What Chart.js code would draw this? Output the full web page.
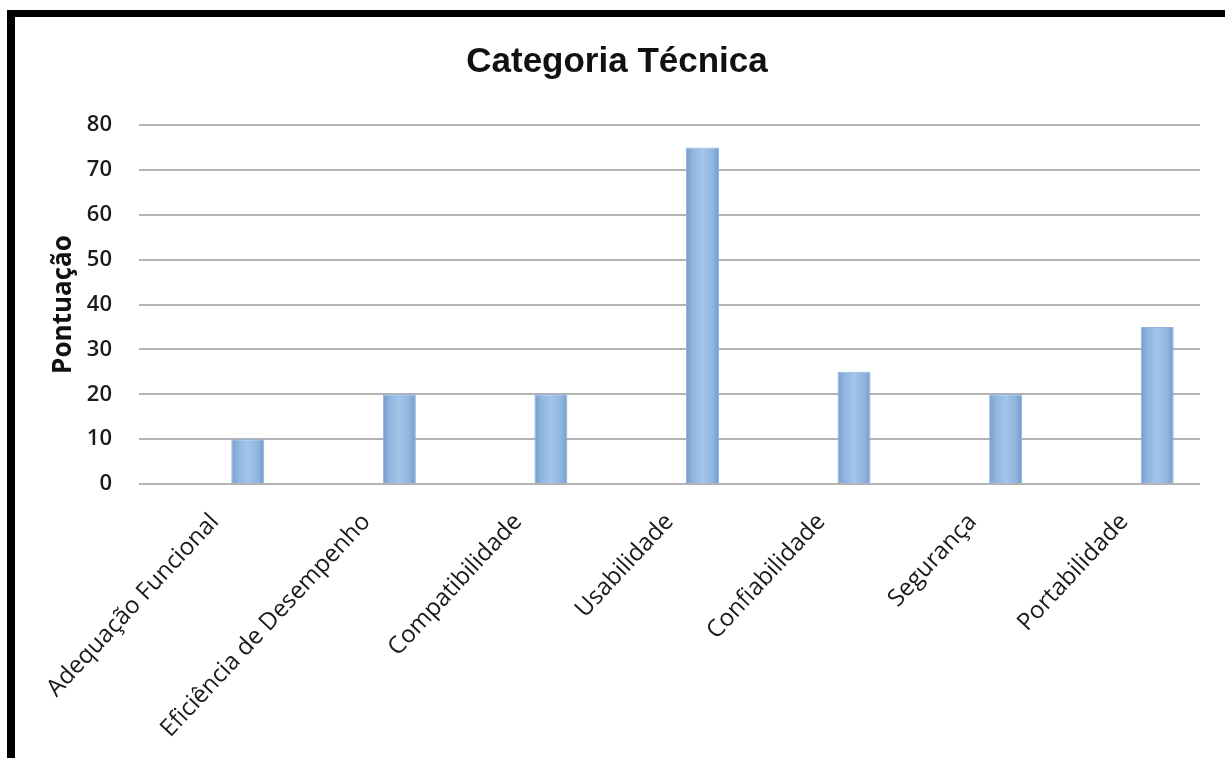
<!DOCTYPE html>
<html lang="pt">
<head>
<meta charset="utf-8">
<title>Categoria Técnica</title>
<script src="https://cdn.jsdelivr.net/npm/chart.js@4.4.1/dist/chart.umd.min.js"></script>
<style>
  html, body { margin: 0; padding: 0; background: #ffffff; }
  body { width: 1225px; height: 758px; overflow: hidden; position: relative; }
  .frame {
    position: absolute; left: 7px; top: 10px;
    width: 1218px; height: 748px;
    border-top: 7px solid #000; border-left: 8px solid #000;
    box-sizing: border-box; background: #fff;
  }
  canvas { display: block; }
</style>
</head>
<body>
<div class="frame">
  <canvas id="chart" width="1210" height="741"></canvas>
</div>
<script>
// Quality categories and their scores
const categories = [
  'Adequação Funcional',
  'Eficiência de Desempenho',
  'Compatibilidade',
  'Usabilidade',
  'Confiabilidade',
  'Segurança',
  'Portabilidade'
];
// Two empty series occupy the first slots of each group, as in the workbook
const serie1 = [null, null, null, null, null, null, null];
const serie2 = [null, null, null, null, null, null, null];
const pontuacao = [10, 20, 20, 75, 25, 20, 35];
const yTicks = [0, 10, 20, 30, 40, 50, 60, 70, 80];

const chartTitle = 'Categoria Técnica';
const yTitle = 'Pontuação';

const barFill = '#95bbe3';
const barEdge = '#8fb4de';

// Horizontal shading across each bar (darker edges, lighter middle)
const barShading = {
  id: 'barShading',
  beforeDatasetsDraw(chart) {
    const ctx = chart.ctx;
    chart.data.datasets.forEach((ds, di) => {
      const meta = chart.getDatasetMeta(di);
      meta.data.forEach(bar => {
        if (bar.width == null || isNaN(bar.x) || isNaN(bar.y)) return;
        const l = bar.x - bar.width / 2, r = bar.x + bar.width / 2;
        const g = ctx.createLinearGradient(l, 0, r, 0);
        g.addColorStop(0, '#759dcb');
        g.addColorStop(0.2, '#8fb5df');
        g.addColorStop(0.5, '#a2c5ea');
        g.addColorStop(0.8, '#8fb5df');
        g.addColorStop(1, '#759dcb');
        bar.options = Object.assign({}, bar.options, { backgroundColor: g });
      });
    });
  }
};

new Chart(document.getElementById('chart'), {
  type: 'bar',
  data: {
    labels: categories,
    datasets: [
      { label: 'Série 1', data: serie1, backgroundColor: barFill, borderColor: barEdge },
      { label: 'Série 2', data: serie2, backgroundColor: barFill, borderColor: barEdge },
      { label: yTitle, data: pontuacao, backgroundColor: barFill, borderColor: barEdge }
    ]
  },
  options: {
    responsive: false,
    animation: false,
    layout: { padding: { left: 19, right: 25, top: 0, bottom: 0 } },
    datasets: {
      bar: {
        categoryPercentage: 0.653,
        barPercentage: 1.0,
        borderWidth: 1
      }
    },
    plugins: {
      legend: { display: false },
      tooltip: { enabled: false },
      title: {
        display: true,
        text: chartTitle,
        color: '#111111',
        font: { family: '"Liberation Sans", Arial, sans-serif', size: 35, weight: 'bold' },
        padding: { top: 24, bottom: 42 }
      }
    },
    scales: {
      x: {
        grid: { display: false, drawTicks: false },
        border: { display: false },
        ticks: {
          color: '#1a1a1a',
          minRotation: 47,
          maxRotation: 47,
          autoSkip: false,
          padding: 24,
          font: { family: '"Open Sans", sans-serif', size: 24 }
        },
        afterFit(scale) { scale.height = 274; }
      },
      y: {
        min: 0,
        max: 80,
        afterBuildTicks(scale) { scale.ticks = yTicks.map(v => ({ value: v })); },
        grid: { color: '#b3b3b3', lineWidth: 2, drawTicks: false },
        border: { display: false },
        ticks: {
          color: '#1a1a1a',
          padding: 27,
          font: { family: '"Open Sans", sans-serif', size: 22, weight: '600' }
        },
        title: {
          display: true,
          text: yTitle,
          color: '#111111',
          font: { family: '"Open Sans", sans-serif', size: 26, weight: 'bold' },
          padding: { top: 14, bottom: 0 }
        },
        afterFit(scale) { scale.width = 105; }
      }
    }
  },
  plugins: [barShading]
});
</script>
</body>
</html>
